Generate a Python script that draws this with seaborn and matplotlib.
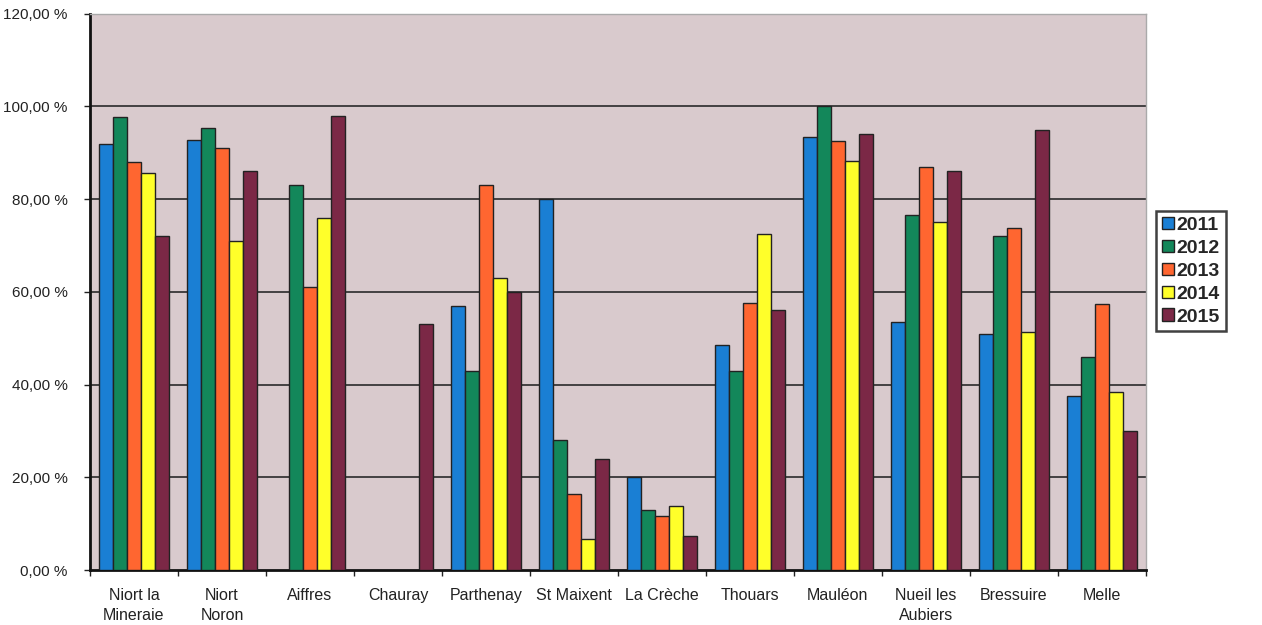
import matplotlib
matplotlib.use("Agg")
import matplotlib.pyplot as plt
from matplotlib.ticker import FuncFormatter, FixedLocator
import numpy as np
import pandas as pd
import seaborn as sns

communes = ["Niort la\nMineraie", "Niort\nNoron", "Aiffres", "Chauray", "Parthenay",
            "St Maixent", "La Crèche", "Thouars", "Mauléon", "Nueil les\nAubiers",
            "Bressuire", "Melle"]
years = ["2011", "2012", "2013", "2014", "2015"]

v2011 = [92.0, 92.8, np.nan, np.nan, 57.0, 80.0, 20.0, 48.6, 93.4, 53.5, 51.0, 37.6]
v2012 = [97.8, 95.4, 83.0, np.nan, 43.0, 28.0, 13.0, 43.0, 100.0, 76.6, 72.0, 46.0]
v2013 = [88.0, 91.0, 61.0, np.nan, 83.0, 16.4, 11.7, 57.6, 92.6, 87.0, 73.8, 57.4]
v2014 = [85.7, 71.0, 76.0, np.nan, 63.0, 6.7, 13.8, 72.5, 88.3, 75.0, 51.4, 38.3]
v2015 = [72.0, 86.0, 98.0, 53.0, 60.0, 24.0, 7.3, 56.0, 94.0, 86.0, 95.0, 30.0]

colors = ["#1a7fd4", "#13875a", "#ff6630", "#ffff2a", "#7b2846"]

rows = []
for yr, vals in zip(years, [v2011, v2012, v2013, v2014, v2015]):
    for c, v in zip(communes, vals):
        rows.append({"commune": c, "annee": yr, "taux": v})
df = pd.DataFrame(rows)

sns.set_style("white")
plt.rcParams["font.family"] = ["Liberation Sans", "DejaVu Sans"]

fig = plt.figure(figsize=(12.62, 6.25), dpi=100)
ax = fig.add_axes([0.0713, 0.088, 0.8367, 0.890])
ax.set_facecolor("#d9cacd")

sns.barplot(data=df, x="commune", y="taux", hue="annee", palette=colors,
            order=communes, hue_order=years, width=0.8, saturation=1, ax=ax,
            edgecolor="#222222", linewidth=1.0, errorbar=None, zorder=3)

ax.set_ylim(0, 120)
ax.set_xlim(-0.5, len(communes) - 0.5)
ax.yaxis.set_major_locator(FixedLocator([0, 20, 40, 60, 80, 100, 120]))
ax.yaxis.set_major_formatter(FuncFormatter(
    lambda v, p: ("%.2f" % v).replace(".", ",") + " %"))
for yv in [20, 40, 60, 80, 100]:
    ax.axhline(yv, color="#2a2a2a", linewidth=1.2, zorder=1)

ax.set_xlabel("")
ax.set_ylabel("")
ax.tick_params(axis="x", length=0, pad=13, labelsize=11.5, colors="#222222")
for lbl in ax.get_xticklabels():
    lbl.set_linespacing(1.45)
ax.tick_params(axis="y", length=4, width=1, direction="out", left=True,
               pad=12, labelsize=11, colors="#222222")
# small ticks between categories
ax.set_xticks(np.arange(len(communes) + 1) - 0.5, minor=True)
ax.tick_params(axis="x", which="minor", length=4, width=1, direction="out",
               bottom=True, color="#222222")

for side in ["top", "right"]:
    ax.spines[side].set_color("#aaaaaa")
    ax.spines[side].set_linewidth(1.0)
for side in ["left", "bottom"]:
    ax.spines[side].set_color("#111111")
    ax.spines[side].set_linewidth(2.0)

leg = ax.legend(loc="upper left", bbox_to_anchor=(1.01, 0.645), frameon=True,
                fancybox=False, edgecolor="#111111",
                prop={"size": 14, "weight": "bold"},
                handlelength=0.6, handleheight=0.6, handletextpad=0.15,
                borderpad=0.3, labelspacing=0.3, borderaxespad=0)
leg.get_frame().set_linewidth(1.8)

fig.savefig("out.png", dpi=100, facecolor="white")
